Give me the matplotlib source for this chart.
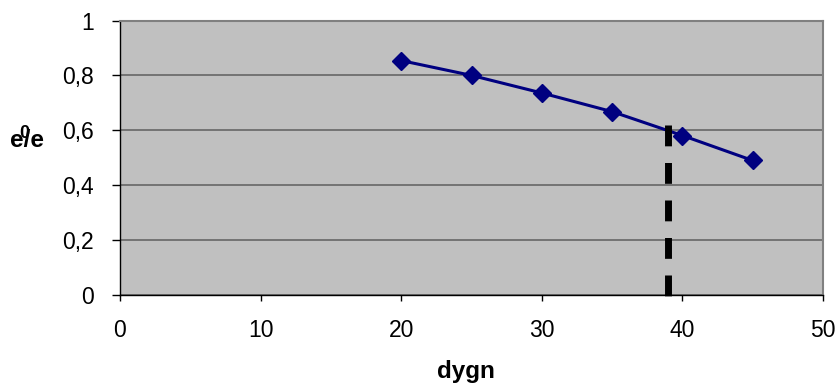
import matplotlib.pyplot as plt

# data
days = [20, 25, 30, 35, 40, 45]
ratio = [0.854, 0.800, 0.736, 0.668, 0.581, 0.490]
marker_day = 39
marker_top = 0.62

x_ticks = [0, 10, 20, 30, 40, 50]
y_ticks = [0, 0.2, 0.4, 0.6, 0.8, 1.0]
y_ticklabels = ['0', '0,2', '0,4', '0,6', '0,8', '1']

plt.rcParams['font.family'] = ['Liberation Sans', 'DejaVu Sans']

fig = plt.figure(figsize=(8.35, 3.83), dpi=100)
ax = fig.add_axes([120 / 835, 1 - 295 / 383, 703 / 835, 274.5 / 383])
ax.set_facecolor('#C0C0C0')

ax.set_xlim(0, 50)
ax.set_ylim(0, 1)
ax.set_xticks(x_ticks)
ax.set_yticks(y_ticks)
ax.set_yticklabels(y_ticklabels)
ax.tick_params(direction='out', width=1, labelsize=16.5)
ax.tick_params(axis='y', length=6, pad=13)
ax.tick_params(axis='x', length=4.5, pad=13)

ax.grid(axis='y', color='#666666', linewidth=1.2)
ax.set_axisbelow(True)

for side in ['left', 'bottom']:
    ax.spines[side].set_color('black')
    ax.spines[side].set_linewidth(1)
for side in ['top', 'right']:
    ax.spines[side].set_color('#808080')
    ax.spines[side].set_linewidth(1.5)

# data series
ax.plot(days, ratio, color='#000080', linewidth=2.2, marker='D',
        markersize=9, markeredgecolor='#000080', zorder=3)

# dashed marker line
ax.plot([marker_day, marker_day], [marker_top, -0.01], color='black',
        linewidth=5, linestyle=(0, (3, 2.4)), dash_capstyle='butt',
        clip_on=False, zorder=4)

ax.set_xlabel('dygn', fontsize=17.5, fontweight='bold')
ax.xaxis.set_label_coords(0.492, -0.237)

# y label "e/e" with overlapping 0
fig.text(27 / 835, 1 - 141 / 383, 'e/e', fontsize=17.5, fontweight='bold',
         ha='center', va='center')
fig.text(24.5 / 835, 1 - 133 / 383, '0', fontsize=13, fontweight='bold',
         ha='center', va='center')

fig.savefig('out.png', dpi=100)
